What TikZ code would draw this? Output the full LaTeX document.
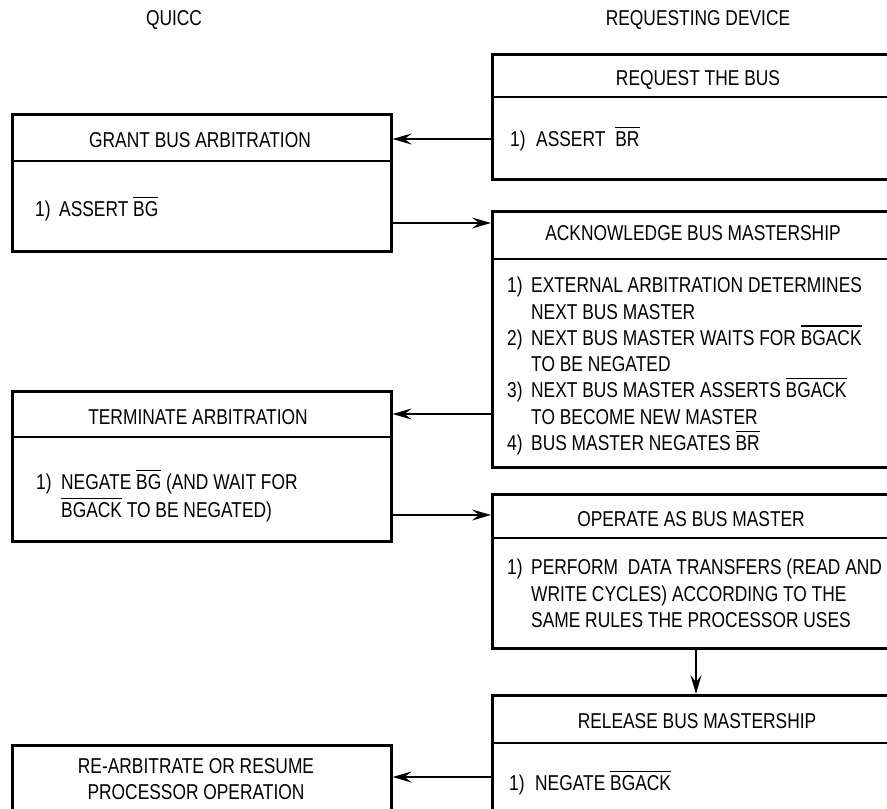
\documentclass[tikz,border=0pt]{standalone}
\usepackage{fontspec}
\setmainfont{Liberation Sans}[FakeStretch=0.808]
\usetikzlibrary{arrows.meta}
\newcommand\ovl[1]{\vbox{\hrule height 1.2pt\kern 3.6pt\hbox{#1}}}
\begin{document}
\begin{tikzpicture}[x=1pt,y=-1pt,
  box/.style={draw,line width=2.6pt,inner sep=0,anchor=north west,minimum width=410pt},
  lbox/.style={draw,line width=2.6pt,inner sep=0,anchor=north west,minimum width=379pt},
  divider/.style={line width=2.4pt},
  conn/.style={line width=1.3pt,-{Stealth[length=19pt,width=11pt,inset=7pt]}},
  lbl/.style={font=\fontsize{21.5}{25}\selectfont,inner sep=0,anchor=base},
  txt/.style={font=\fontsize{21.5}{25}\selectfont,inner sep=0,anchor=base west}]
\useasboundingbox (0,0) rectangle (887,809);
\clip (0,0) rectangle (887,809);
% column titles
\node[lbl] (tq) at (174,25.7) {QUICC};
\node[lbl] (tr) at (698,25.7) {REQUESTING DEVICE};
% boxes
\node[box,minimum height=125pt] (req) at (491,53) {};
\node[lbox,minimum height=137pt] (grant) at (11,113) {};
\node[box,minimum height=256pt] (ack) at (491,210) {};
\node[lbox,minimum height=150pt] (term) at (11,390) {};
\node[box,minimum height=154pt] (oper) at (491,493) {};
\node[box,minimum height=140pt] (rel) at (491,694) {};
\node[lbox,minimum height=90pt] (rearb) at (11,744) {};
% dividers
\draw[divider] (req.west |- 0,97) -- (req.east |- 0,97);
\draw[divider] (grant.west |- 0,161) -- (grant.east |- 0,161);
\draw[divider] (ack.west |- 0,259) -- (ack.east |- 0,259);
\draw[divider] (term.west |- 0,437) -- (term.east |- 0,437);
\draw[divider] (oper.west |- 0,538) -- (oper.east |- 0,538);
\draw[divider] (rel.west |- 0,743) -- (rel.east |- 0,743);
% headers
\node[lbl] (hreq) at (698,85.7) {REQUEST THE BUS};
\node[lbl] (hgrant) at (200,147.7) {GRANT BUS ARBITRATION};
\node[lbl] (hack) at (693,240.7) {ACKNOWLEDGE BUS MASTERSHIP};
\node[lbl] (hterm) at (198,424.7) {TERMINATE ARBITRATION};
\node[lbl] (hoper) at (691,526.7) {OPERATE AS BUS MASTER};
\node[lbl] (hrel) at (697,728.7) {RELEASE BUS MASTERSHIP};
\node[lbl] (hre1) at (196,773.7) {RE-ARBITRATE OR RESUME};
\node[lbl] (hre2) at (196,799.7) {PROCESSOR OPERATION};
% bodies
\node[txt] (rq1) at (510,146.7) {1)};
\node[txt] (rq2) at (536,146.7) {ASSERT\hspace{10pt}\ovl{BR}};
\node[txt] (gr1) at (35,216.7) {1)};
\node[txt] (gr2) at (59,216.7) {ASSERT \ovl{BG}};
\node[txt] (ak1) at (507,292.7) {1)};
\node[txt] (ak1b) at (531,292.7) {EXTERNAL ARBITRATION DETERMINES};
\node[txt] (ak1c) at (531,319.0) {NEXT BUS MASTER};
\node[txt] (ak2) at (507,345.3) {2)};
\node[txt] (ak2b) at (531,345.3) {NEXT BUS MASTER WAITS FOR \ovl{BGACK}};
\node[txt] (ak2c) at (531,371.6) {TO BE NEGATED};
\node[txt] (ak3) at (507,397.9) {3)};
\node[txt] (ak3b) at (531,397.9) {NEXT BUS MASTER ASSERTS \ovl{BGACK}};
\node[txt] (ak3c) at (531,424.2) {TO BECOME NEW MASTER};
\node[txt] (ak4) at (507,450.5) {4)};
\node[txt] (ak4b) at (531,450.5) {BUS MASTER NEGATES \ovl{BR}};
\node[txt] (tm1) at (36,489.7) {1)};
\node[txt] (tm1b) at (61,489.7) {NEGATE \ovl{BG} (AND WAIT FOR};
\node[txt] (tm1c) at (61,517.7) {\ovl{BGACK} TO BE NEGATED)};
\node[txt] (op1) at (507,574.7) {1)};
\node[txt] (op1b) at (531,574.7) {PERFORM\hspace{5pt} DATA TRANSFERS (READ AND};
\node[txt] (op1c) at (531,601.2) {WRITE CYCLES) ACCORDING TO THE};
\node[txt] (op1d) at (531,627.7) {SAME RULES THE PROCESSOR USES};
\node[txt] (rl1) at (509,790.7) {1)};
\node[txt] (rl1b) at (535,790.7) {NEGATE \ovl{BGACK}};
% connectors
\coordinate (c1) at (491,139);
\coordinate (c2) at (390,223);
\coordinate (c3) at (491,414);
\coordinate (c4) at (390,515);
\coordinate (c5) at (696,647);
\coordinate (c6) at (491,777);
\draw[conn] (c1) -- (grant.east |- c1);
\draw[conn] (c2) -- (ack.west |- c2);
\draw[conn] (c3) -- (term.east |- c3);
\draw[conn] (c4) -- (oper.west |- c4);
\draw[conn] (c5) -- (c5 |- rel.north);
\draw[conn] (c6) -- (rearb.east |- c6);
\end{tikzpicture}
\end{document}
